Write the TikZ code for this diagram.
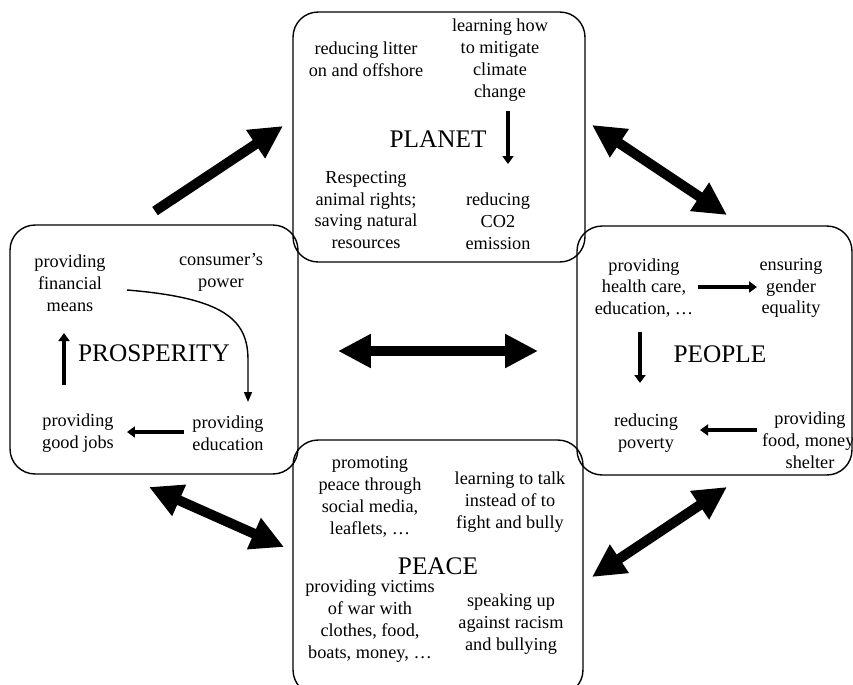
\documentclass[tikz,border=0pt]{standalone}
\usepackage{fontspec}
\setmainfont{Liberation Serif}
\usetikzlibrary{arrows.meta}

\begin{document}
\begin{tikzpicture}[x=0.02cm, y=-0.02cm,
  area/.style={draw, rounded corners=0.5cm, line width=0.8pt, inner sep=0pt, outer sep=0pt},
  item/.style={align=center, inner sep=0pt, font=\fontsize{10.4}{12.4}\selectfont},
  title/.style={inner sep=0pt, font=\fontsize{14.4}{17}\selectfont},
  link/.style={line width=0.08cm, -{Triangle[length=0.16cm, width=0.22cm]}},
  curvelink/.style={line width=0.8pt, -{Triangle[length=0.2cm, width=0.16cm]}},
  bigarrow/.style={line width=0.2cm, -{Triangle[length=0.66cm, width=0.64cm]}},
  bigboth/.style={line width=0.2cm, {Triangle[length=0.66cm, width=0.64cm]}-{Triangle[length=0.66cm, width=0.64cm]}}
]
  \useasboundingbox (0,0) rectangle (853,684);

  % the four areas
  \node[area, minimum width=5.84cm, minimum height=5cm] (planet) at (439,137) {};
  \node[area, minimum width=5.76cm, minimum height=4.98cm] (prosperity) at (154,349.5) {};
  \node[area, minimum width=5.5cm, minimum height=4.98cm] (people) at (714.5,350.5) {};
  \node[area, minimum width=5.8cm, minimum height=5.1cm] (peace) at (438,567.5) {};

  % planet
  \node[item] (litter) at (366,59) {reducing litter\\on and offshore};
  \node[item] (mitigate) at (500,60) {learning how\\to mitigate\\climate\\change};
  \node[title] (planetname) at (438,139) {PLANET};
  \node[item] (animal) at (366,210) {Respecting\\animal rights;\\saving natural\\resources};
  \node[item] (co2) at (498,221) {reducing\\CO2\\emission};
  \draw[link] ([shift={(8,51)}]mitigate.center) -- ([shift={(10,-57)}]co2.center);

  % prosperity
  \node[item] (means) at (70,283) {providing\\financial\\means};
  \node[item] (consumer) at (221,272) {consumer’s\\power};
  \node[title] (prosperityname) at (154,353) {PROSPERITY};
  \node[item] (jobs) at (78,433) {providing\\good jobs};
  \node[item] (educ) at (228,433) {providing\\education};
  \draw[curvelink] ([shift={(57,7)}]means.center) .. controls (225,298) and (248,320) .. (248,360)
    -- ([shift={(20,-31)}]educ.center);
  \draw[link] ([shift={(-44,-1)}]educ.center) -- ([shift={(49,-1)}]jobs.center);
  \draw[link] ([shift={(-14,-48)}]jobs.center) -- ([shift={(-6,50)}]means.center);

  % people
  \node[item] (health) at (644,288) {providing\\health care,\\education, …};
  \node[item] (gender) at (791,288) {ensuring\\gender\\equality};
  \node[title] (peoplename) at (720,354) {PEOPLE};
  \node[item] (poverty) at (646,433) {reducing\\poverty};
  \node[item] (food) at (810,440) {providing\\food, money,\\shelter};
  \draw[link] ([shift={(54,-1)}]health.center) -- ([shift={(-34,-1)}]gender.center);
  \draw[link] ([shift={(-4,44)}]health.center) -- ([shift={(-6,-50)}]poverty.center);
  \draw[link] ([shift={(-53,-10)}]food.center) -- ([shift={(54,-3)}]poverty.center);

  % peace
  \node[item] (promoting) at (370,497) {promoting\\peace through\\social media,\\leaflets, …};
  \node[item] (talk) at (510,502) {learning to talk\\instead of to\\fight and bully};
  \node[title] (peacename) at (438,566) {PEACE};
  \node[item] (victims) at (370,621) {providing victims\\of war with\\clothes, food,\\boats, money, …};
  \node[item] (racism) at (511,624) {speaking up\\against racism\\and bullying};

  % links between the areas
  \draw[bigarrow] ([shift={(1,-14)}]prosperity.north) -- ([shift={(-10,-11)}]planet.west);
  \draw[bigboth] ([shift={(7,-12)}]planet.east) -- ([shift={(12.5,-11)}]people.north);
  \draw[bigboth] ([shift={(40,1.5)}]prosperity.east) -- ([shift={(-39,0.5)}]people.west);
  \draw[bigboth] ([shift={(-5,13)}]prosperity.south) -- ([shift={(-9,-20.5)}]peace.west);
  \draw[bigboth] ([shift={(9,9.5)}]peace.east) -- ([shift={(12.5,12)}]people.south);
\end{tikzpicture}
\end{document}
